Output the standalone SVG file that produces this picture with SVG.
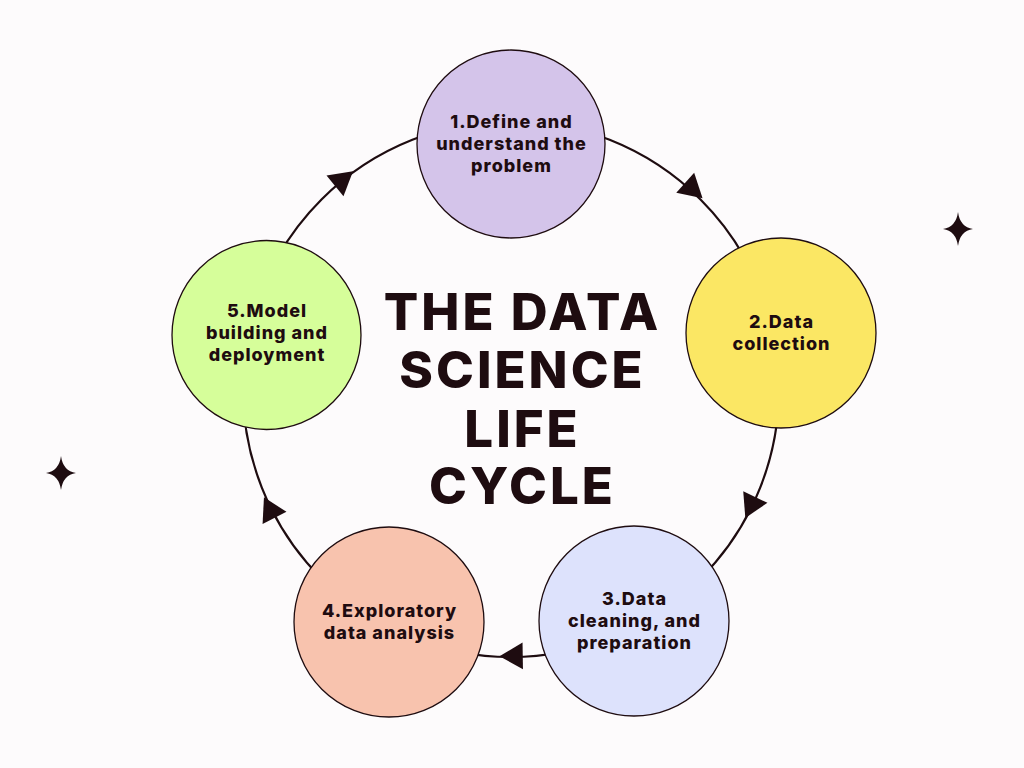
<svg xmlns="http://www.w3.org/2000/svg" width="1024" height="768" viewBox="0 0 1024 768">
  <defs>
    <style>
      .node { stroke: #1e0c10; stroke-width: 1.3; }
      .lbl { font-family: Inter, "Liberation Sans", sans-serif; font-weight: 800; font-size: 18px; letter-spacing: 1px; fill: #1e0c10; text-anchor: middle; }
      .title { font-family: Inter, "Liberation Sans", sans-serif; font-weight: 800; font-size: 51px; letter-spacing: 3px; fill: #1e0c10; text-anchor: middle; }
      .ring { fill: none; stroke: #1e0c10; stroke-width: 2.2; }
      .arrow { fill: #1e0c10; }
      .star { fill: #1e0c10; }
    </style>
    <polygon id="tri" points="15.5,0 -7.75,13.4 -7.75,-13.4"/>
    <path id="star" d="M0,-17 Q2,-2 15,0 Q2,2 0,17 Q-2,2 -15,0 Q-2,-2 0,-17 Z"/>
  </defs>
  <rect width="1024" height="768" fill="#fdfbfc"/>

  <g id="connectors">
    <circle class="ring" cx="511" cy="389" r="268"/>
    <use href="#tri" class="arrow" transform="translate(341,181) rotate(-39.3)"/>
    <use href="#tri" class="arrow" transform="translate(691,188) rotate(41.8)"/>
    <use href="#tri" class="arrow" transform="translate(752,504) rotate(115.5)"/>
    <use href="#tri" class="arrow" transform="translate(515,656) rotate(179.1)"/>
    <use href="#tri" class="arrow" transform="translate(271,511) rotate(-117)"/>
  </g>

  <g id="node1">
    <circle class="node" cx="511" cy="144" r="94" fill="#d4c4ea"/>
    <text class="lbl" x="511.5" y="128">1.Define and</text>
    <text class="lbl" x="511.5" y="150">understand the</text>
    <text class="lbl" x="511.5" y="172">problem</text>
  </g>
  <g id="node2">
    <circle class="node" cx="781" cy="333" r="95" fill="#fbe764"/>
    <text class="lbl" x="781.5" y="328">2.Data</text>
    <text class="lbl" x="781.5" y="350">collection</text>
  </g>
  <g id="node3">
    <circle class="node" cx="634" cy="621" r="95" fill="#dde2fc"/>
    <text class="lbl" x="634.5" y="605">3.Data</text>
    <text class="lbl" x="634.5" y="627">cleaning, and</text>
    <text class="lbl" x="634.5" y="649">preparation</text>
  </g>
  <g id="node4">
    <circle class="node" cx="389" cy="622" r="95" fill="#f8c3ae"/>
    <text class="lbl" x="389.5" y="617">4.Exploratory</text>
    <text class="lbl" x="389.5" y="639">data analysis</text>
  </g>
  <g id="node5">
    <circle class="node" cx="266.5" cy="335" r="94.5" fill="#d6fe9a"/>
    <text class="lbl" x="267" y="317">5.Model</text>
    <text class="lbl" x="267" y="339">building and</text>
    <text class="lbl" x="267" y="361">deployment</text>
  </g>

  <g id="title">
    <text class="title" x="522.5" y="330">THE DATA</text>
    <text class="title" x="522.5" y="388">SCIENCE</text>
    <text class="title" x="522.5" y="447">LIFE</text>
    <text class="title" x="522.5" y="504">CYCLE</text>
  </g>

  <g id="stars">
    <use href="#star" class="star" transform="translate(958,229)"/>
    <use href="#star" class="star" transform="translate(61,473)"/>
  </g>
</svg>
